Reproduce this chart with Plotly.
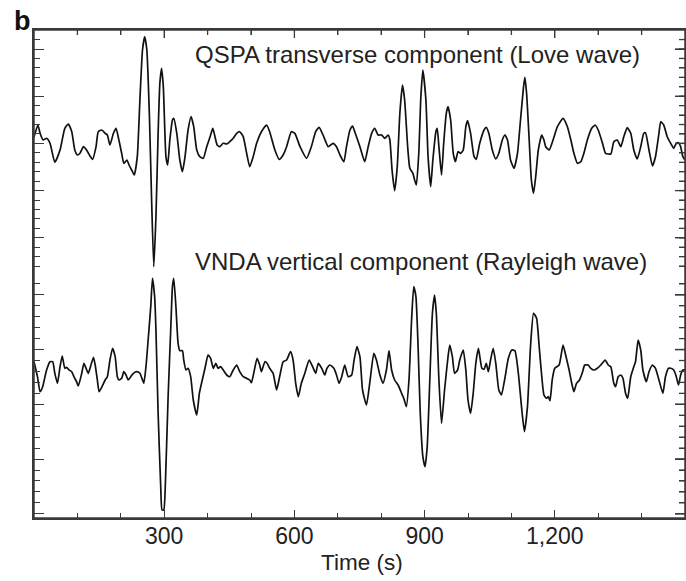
import plotly.graph_objects as go

# ---------------- data ----------------
# QSPA transverse component (Love wave): time (s), amplitude (arbitrary units)
qspa_t = [0, 9, 14, 21, 29, 37, 48, 60, 71, 79, 87, 94, 100, 106, 114, 121, 129, 135, 143, 148,
          156, 164, 169, 175, 183, 189, 194, 202, 207, 214, 219, 225, 231, 238, 244, 250, 255, 260,
          266, 271, 276, 281, 286, 290, 294, 298, 304, 308, 313, 319, 322, 329, 336, 342, 348, 355,
          362, 368, 375, 382, 390, 398, 407, 412, 417, 422, 428, 436, 444, 451, 459, 467, 474, 482,
          490, 497, 505, 513, 524, 536, 543, 555, 565, 574, 582, 593, 601, 613, 628, 639, 649, 657,
          666, 678, 689, 697, 705, 714, 720, 728, 734, 739, 751, 762, 770, 778, 785, 793, 801, 808,
          816, 820, 825, 831, 837, 843, 849, 854, 861, 866, 873, 877, 881, 887, 891, 896, 903, 908,
          914, 919, 926, 929, 933, 939, 944, 950, 954, 960, 966, 971, 977, 983, 989, 995, 999, 1006,
          1014, 1019, 1027, 1037, 1042, 1048, 1056, 1064, 1071, 1079, 1085, 1091, 1098, 1106, 1114,
          1121, 1128, 1131, 1135, 1141, 1146, 1151, 1156, 1162, 1170, 1175, 1179, 1187, 1196, 1206,
          1219, 1229, 1237, 1244, 1252, 1260, 1267, 1275, 1285, 1293, 1300, 1310, 1317, 1329, 1336,
          1344, 1352, 1359, 1367, 1375, 1382, 1390, 1398, 1405, 1409, 1417, 1425, 1432, 1440, 1444,
          1451, 1459, 1467, 1474, 1480, 1485, 1490, 1495, 1500]
qspa_amp = [8, 20, 11.7, 5, 6.7, 1.7, -17.3, -5, 16.7, 21, 13.3, -5, -10, -8.3, -1.7, -5, -11, -14.3, -1.7, 13.3,
            15, 11.7, 10, 0, 11.7, 16.7, 8.3, -8.3, -18.3, -15, -20, -25, -30, -11.7, 45, 95, 108.3, 95,
            28.3, -55, -121.7, -71.7, 11.7, 61.7, 76.7, 58.3, -11.7, -20, 5, 25, 26.7, 11.7, -15, -26.7, -11.7, 15,
            28.3, 18.3, -5, -11.7, -13.3, -1.7, 10, 16.7, 8.3, 0, -1.7, 1.7, 1, 3.3, 6.7, 11.7, 13.3, 8.3,
            -8.3, -21.7, -11.7, 1.7, 13.3, 20, 13.3, -5, -14.3, -10, -1.7, 13.3, 11.7, -1.7, -13.3, -1.7, 13.3, 17.7,
            10, -1.7, 1.7, -1.7, -10, -16.7, -1.7, 15, 19, 13.3, -1.7, -16.7, -1.7, 11.7, 16.7, 10, 10, 6.7,
            10, 5, -25, -45.7, -21.7, 31.7, 60, 45, -1.7, -23.3, -28.3, -35, -40, -5, 45, 75, 45, -11.7,
            -41.7, -15, 13.3, 16.7, -1.7, -30, 1.7, 31.7, 38.3, 25, -8.3, -16.7, -6.7, -8.3, -5, 18.3, 24.3, 11.7,
            -11.7, -14.3, 1.7, 15, 17.7, 11.7, -5, -14, -8.3, 5, 10, 5, -15, -23.3, -8.3,
            25, 58.3, 67.7, 51.7, 5, -35, -48.3, -31.7, -5, 10, 5, -1.7, -5, 5, 18.3,
            26.7, 18.3, 5, -8.3, -18.3, -16.7, -8.3, 5, 16.7, 20, 15, 1.7, -8.3, -9, 3.3,
            5, -1.7, 8.3, 17.3, 11.7, -5, -14, -1.7, 11.7, 12.3, -5, -21, -11.7, 11.7, 23.3,
            20, 8.3, 1.7, -3.3, 1.7, 2.3, -1.7, -11.7, -15]

# VNDA vertical component (Rayleigh wave): time (s), amplitude (arbitrary units)
vnda_t = [0, 8, 14, 20, 29, 37, 43, 48, 54, 60, 65, 71, 75, 81, 87, 92, 98, 102, 110, 115, 120, 125,
          129, 137, 141, 146, 150, 156, 164, 169, 175, 181, 187, 192, 196, 202, 207, 212, 217, 223,
          229, 237, 244, 250, 253, 258, 263, 269, 273, 278, 281, 286, 292, 295, 299, 303, 309, 315,
          319, 322, 327, 332, 336, 342, 345, 350, 355, 361, 367, 375, 381, 386, 394, 401, 407, 413,
          419, 424, 430, 436, 444, 451, 459, 467, 474, 482, 490, 497, 501, 507, 514, 520, 524, 532,
          537, 543, 551, 559, 566, 574, 582, 591, 597, 603, 609, 616, 624, 634, 642, 649, 655, 663,
          670, 675, 682, 691, 697, 703, 709, 716, 724, 732, 737, 744, 751, 757, 766, 774, 783, 789,
          797, 804, 812, 818, 824, 831, 839, 847, 852, 858, 864, 870, 875, 880, 885, 890, 896, 901,
          906, 912, 918, 923, 927, 933, 939, 946, 954, 958, 964, 969, 976, 981, 989, 995, 1000, 1006,
          1012, 1018, 1024, 1032, 1037, 1042, 1047, 1052, 1058, 1064, 1071, 1077, 1085, 1093, 1101,
          1108, 1116, 1124, 1130, 1137, 1144, 1151, 1158, 1164, 1170, 1175, 1181, 1185, 1189, 1194,
          1200, 1210, 1219, 1225, 1233, 1239, 1244, 1250, 1257, 1263, 1269, 1277, 1283, 1290, 1298,
          1306, 1316, 1323, 1329, 1336, 1340, 1346, 1352, 1357, 1363, 1368, 1375, 1382, 1386, 1392,
          1398, 1403, 1411, 1417, 1425, 1432, 1440, 1449, 1455, 1462, 1467, 1474, 1480, 1485, 1490,
          1495, 1500]
vnda_amp = [13.3, -1.7, -16.7, -11.7, 5, 13.3, 13.3, 1.7, -8.3, 8.3, 19, 6.7, 7.7, 5, 3.3, -1.7, -6.7, -11, 1.7, 11.7, 6.7, 1.7,
            6.7, 17.7, 10, -5, -16.7, -12.3, -5, -1.7, 15, 26.7, 18.3, -1.7, -5, -3.3, 3.3, 0, -5, -1.7,
            1.7, 3.3, 1.7, -5, -8.3, 8.3, 35, 68.3, 96.7, 78.3, 45, -38.3, -111.7, -135, -135, -105, -21.7, 45,
            88.3, 96.7, 68.3, 31.7, 24.3, 24.3, 15, 5, 6.7, -1.7, -25, -40, -18.3, -8.3, 6.7, 20, 16.7, 6.7,
            11.7, 6.7, 8.3, 5, 0, -1.7, 5, 10, 3.3, -1.7, -3.3, -5, -7.7, 3.3, 16.7, 10, 3.3, 13.3,
            11.7, 6.7, 1.7, -15, -1.7, 13.3, 15, 23.3, 15, -8.3, -21.7, -8.3, 1.7, 15, 8.3, 1.7, 11.7, 6.7,
            0, 6.7, 10, 6.7, 0, -8.3, -1.7, 10, -1.7, 0, 13.3, 28.3, 18.3, -15, -30, -6.7, 21.7, 15,
            0, -8.3, 5, 24.3, 5, -5, -10, -18.3, -23.3, -31.7, -5, 55, 88.3, 78.3, 28.3, -38.3, -81.7, -91.7,
            -71.7, -5, 61.7, 80, 61.7, -5, -48.3, -15, 18.3, 30, 18.3, 1.7, 5, 15, 25, 5, -25, -38.3,
            -18.3, 11.7, 26.7, 6.7, 5.7, 11.7, 3.3, 15, 26.7, 11.7, -15, -20, -3.3, 16.7, 25,
            24.3, 1.7, -35, -56.7, -31.7, 28.3, 61.7, 56.7, 28.3, -1.7, -20, -23.3, -21.7, -25.7, -5,
            6.7, 10, 30, 20, 5, -8.3, -16.7, -8.3, -5, 1.7, 10, 10, 6.7, 5, 6.7,
            10, 15, 10, 8.3, -8.3, -11.7, -1.7, 0, -3.3, -18.3, -23.3, -1.7, 8.3, 13.3, 35,
            25, 5, -6.7, 3.3, 10, 6.7, -5, -18.3, -1.7, 6.7, 6.7, 5, -1.7, -10, 0,
            5, 5]

x_tickvals = [300, 600, 900, 1200]
x_ticktext = ["300", "600", "900", "1,200"]
x_minor_vals = [100, 200, 400, 500, 700, 800, 1000, 1100, 1300, 1400]

label_top = "QSPA transverse component (Love wave)"
label_bottom = "VNDA vertical component (Rayleigh wave)"
panel_label = "b"
x_title = "Time (s)"

# ---------------- axis scales (each trace has its own amplitude scale) ----------------
x_range = [0, 1500]
# lower trace (VNDA) axis: full-height range, ticks only over the lower half
y_range = [-143, 345]
y_major = [-29.3 + k * 54.75 for k in range(-2, 3)]
y_minor = [-29.3 + k * 10.95 for k in range(-10, 12)]
# upper trace (QSPA) axis: full-height range, ticks only over the upper half
y2_range = [-373, 115]
y2_major = [1.6 + k * 47.2 for k in range(-2, 3)]
y2_minor = [1.6 + k * 9.44 for k in range(-13, 12)]

# ---------------- figure ----------------
W, H = 686, 581
M = dict(l=34, r=1, t=30, b=63)
PW, PH = W - M["l"] - M["r"], H - M["t"] - M["b"]

FONT = "Liberation Sans, Arial, Helvetica, sans-serif"
AX = "#3a3a3a"
TXT = "#222222"
WAVE = dict(color="#111111", width=1.7, shape="spline", smoothing=0.5)

fig = go.Figure()
fig.add_trace(go.Scatter(x=qspa_t, y=qspa_amp, mode="lines", xaxis="x", yaxis="y2",
                         line=WAVE, showlegend=False, hoverinfo="skip"))
fig.add_trace(go.Scatter(x=vnda_t, y=vnda_amp, mode="lines", xaxis="x", yaxis="y",
                         line=WAVE, showlegend=False, hoverinfo="skip"))

# inward ticks mirrored onto the top and right edges of the frame
tick_shapes = []
for xv in x_tickvals + x_minor_vals:
    ln = 8 if xv in x_tickvals else 5
    tick_shapes.append(dict(type="line", xref="x", yref="paper", x0=xv, x1=xv,
                            y0=1, y1=1 - ln / PH, line=dict(color=AX, width=1.3)))
for yref, major, minor in (("y2", y2_major, y2_minor), ("y", y_major, y_minor)):
    for yv in major + minor:
        ln = 10 if yv in major else 6
        tick_shapes.append(dict(type="line", xref="paper", yref=yref, x0=1, x1=1 - ln / PW,
                                y0=yv, y1=yv, line=dict(color=AX, width=1.3)))


def y_axis(rng, major, minor, **extra):
    return dict(domain=[0, 1], range=rng, anchor="x", side="left", showticklabels=False,
                tickmode="array", tickvals=major, ticks="inside", ticklen=10, tickwidth=1.3,
                tickcolor=AX, showline=True, linecolor=AX, linewidth=1.5, mirror="ticks",
                automargin=False, showgrid=False, zeroline=False, fixedrange=True,
                minor=dict(tickmode="array", tickvals=minor, ticks="inside", ticklen=6,
                           tickwidth=1.3, tickcolor=AX, showgrid=False),
                **extra)


fig.update_layout(
    width=W, height=H,
    margin=M,
    paper_bgcolor="white", plot_bgcolor="white",
    font=dict(family=FONT, size=23, color=TXT),
    xaxis=dict(range=x_range, domain=[0, 1], anchor="y", side="bottom",
               tickmode="array", tickvals=x_tickvals, ticktext=x_ticktext,
               ticks="inside", ticklen=8, tickwidth=1.3, tickcolor=AX,
               showline=True, linecolor=AX, linewidth=1.5, mirror="ticks",
               showgrid=False, zeroline=False, fixedrange=True, automargin=False,
               tickfont=dict(family=FONT, size=23, color=TXT), ticklabelstandoff=-3,
               minor=dict(tickmode="array", tickvals=x_minor_vals, ticks="inside", ticklen=5,
                          tickwidth=1.3, tickcolor=AX, showgrid=False)),
    yaxis=y_axis(y_range, y_major, y_minor),
    yaxis2=y_axis(y2_range, y2_major, y2_minor, overlaying="y"),
    shapes=[dict(type="rect", xref="paper", yref="paper", x0=0, x1=1, y0=0, y1=1,
                 line=dict(color=AX, width=1.5), fillcolor="rgba(0,0,0,0)", layer="above")]
           + tick_shapes,
    annotations=[
        dict(text=label_top, xref="paper", yref="paper", x=0.2442, y=0.9488,
             xanchor="left", yanchor="middle", showarrow=False,
             font=dict(family=FONT, size=24, color=TXT)),
        dict(text=label_bottom, xref="paper", yref="paper", x=0.2442, y=0.5266,
             xanchor="left", yanchor="middle", showarrow=False,
             font=dict(family=FONT, size=24, color=TXT)),
        dict(text=x_title, xref="paper", yref="paper", x=0.504, y=-0.0922,
             xanchor="center", yanchor="middle", showarrow=False,
             font=dict(family=FONT, size=22.5, color=TXT)),
        dict(text="<b>" + panel_label + "</b>", xref="paper", yref="paper", x=-0.034, y=1.019,
             xanchor="left", yanchor="middle", showarrow=False,
             font=dict(family=FONT, size=27, color="#111111")),
    ],
)

fig.write_html("out.html", config={"displayModeBar": False},
               post_script="document.body.style.margin='0px';document.body.style.overflow='hidden';")
